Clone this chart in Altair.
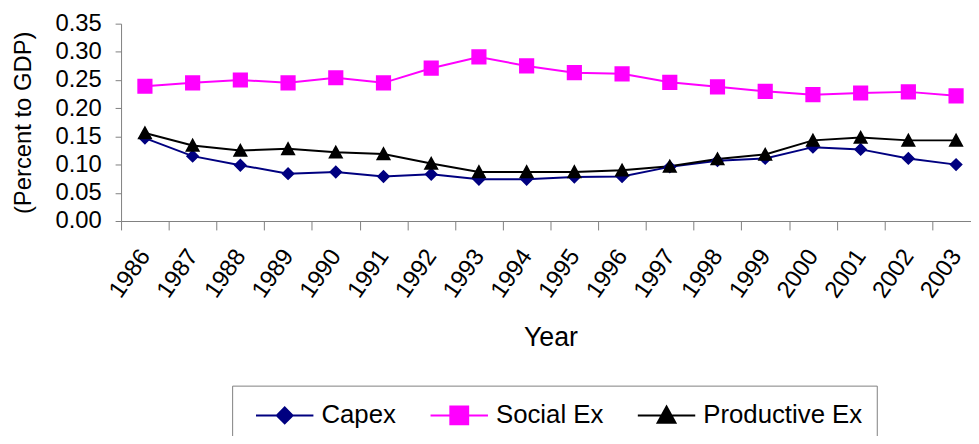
import altair as alt
import pandas as pd

years = ["1986", "1987", "1988", "1989", "1990", "1991", "1992", "1993", "1994",
         "1995", "1996", "1997", "1998", "1999", "2000", "2001", "2002", "2003"]
capex = [0.147, 0.115, 0.099, 0.084, 0.087, 0.079, 0.083, 0.074, 0.074,
         0.078, 0.079, 0.096, 0.107, 0.111, 0.131, 0.127, 0.111, 0.100]
social = [0.239, 0.245, 0.250, 0.245, 0.254, 0.245, 0.271, 0.291, 0.275,
          0.263, 0.261, 0.246, 0.238, 0.230, 0.224, 0.227, 0.229, 0.222]
productive = [0.156, 0.134, 0.125, 0.128, 0.122, 0.119, 0.102, 0.087, 0.087,
              0.087, 0.090, 0.097, 0.110, 0.118, 0.143, 0.148, 0.143, 0.143]
series_names = ["Capex", "Social Ex", "Productive Ex"]
series_colors = ["#000080", "#FF00FF", "#000000"]
y_ticks = [0.0, 0.05, 0.10, 0.15, 0.20, 0.25, 0.30, 0.35]

rows = []
for name, vals in zip(series_names, [capex, social, productive]):
    for yr, v in zip(years, vals):
        rows.append({"year": yr, "series": name, "value": v})
df = pd.DataFrame(rows)

# legend-style symbols: a line with a marker in the middle
shape_paths = [
    "M-1.93,0H1.93M0,-0.53L0.53,0L0,0.53L-0.53,0Z",
    "M-1.93,0H1.93M-0.6,-0.6H0.6V0.6H-0.6Z",
    "M-1.93,0H1.93M0,-0.6L0.6,0.5L-0.6,0.5Z",
]

FONT = "Liberation Sans"

legend = alt.Legend(
    title=None, orient="none", legendX=112, legendY=365,
    direction="horizontal", columns=3,
    strokeColor="#808080", fillColor="white", padding=14,
    labelFont=FONT, labelFontSize=26, labelColor="black", labelLimit=400,
    symbolSize=900, symbolStrokeWidth=2, symbolOffset=23,
    labelOffset=21, columnPadding=24,
)

x_enc = alt.X(
    "year:O", sort=years,
    scale=alt.Scale(type="band", paddingInner=0, paddingOuter=0, range=[0, 866]),
    axis=alt.Axis(
        title="Year", titleFont=FONT, titleFontSize=27, titleFontWeight="normal",
        titleColor="black", titlePadding=23,
        labelFont=FONT, labelFontSize=24, labelColor="black",
        labelAngle=-55, labelAlign="right", labelBaseline="middle",
        labelPadding=22, tickBand="extent", tickSize=9,
        domainColor="#808080", tickColor="#808080", grid=False,
        labelOverlap=False,
    ),
)
y_enc = alt.Y(
    "value:Q",
    scale=alt.Scale(domain=[0, 0.35], nice=False),
    axis=alt.Axis(
        values=y_ticks, format=".2f", title="(Percent to GDP)",
        titleFont=FONT, titleFontSize=24, titleFontWeight="normal",
        titleColor="black", titlePadding=20,
        labelFont=FONT, labelFontSize=24, labelColor="black", labelPadding=14,
        tickSize=6, domainColor="#808080", tickColor="#808080", grid=False,
    ),
)
color_enc = alt.Color(
    "series:N", sort=series_names,
    scale=alt.Scale(domain=series_names, range=series_colors),
    legend=legend,
)

base = alt.Chart(df).encode(x=x_enc, y=y_enc, color=color_enc)

lines = base.mark_line(strokeWidth=2)
points = base.mark_point(filled=True, size=650, opacity=1).encode(
    shape=alt.Shape(
        "series:N", sort=series_names,
        scale=alt.Scale(domain=series_names, range=shape_paths),
        legend=legend,
    )
)

chart = (
    alt.layer(lines, points)
    .properties(
        width=857, height=199, autosize="none",
        padding={"left": 114, "top": 14, "right": 0, "bottom": 215},
    )
    .configure_view(strokeWidth=0)
)

chart.save("out.html", embed_options={"renderer": "svg", "actions": False})
